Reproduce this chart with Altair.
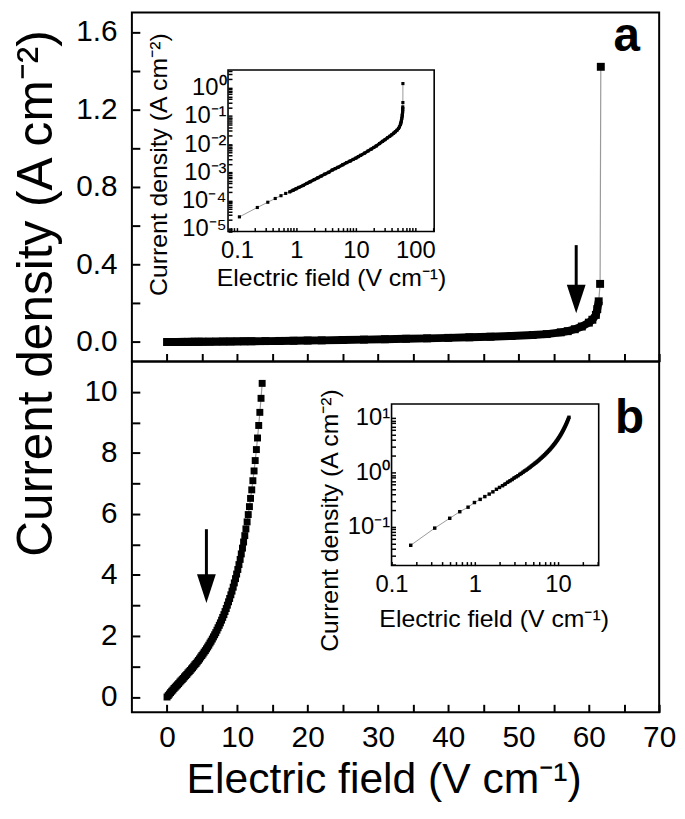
import altair as alt
import pandas as pd

FONT = "Liberation Sans"

# ---------------- data ----------------
# panel a : electric field (V/cm) vs current density (A/cm2)
a_E = [0, 0.11, 0.22, 0.33, 0.44, 0.55, 0.66, 0.77, 0.88, 0.99,
       1.1, 1.3, 1.5, 1.7, 2.0, 2.3, 2.6, 3.0, 3.5, 4.0,
       4.5, 5.0, 6.0, 7.0, 8.0, 9.0, 10, 11, 12, 14,
       16, 18, 20, 22, 25, 28, 31, 34, 37, 40,
       43, 46, 49, 52, 54, 56, 57, 58, 59, 60,
       60.5, 61.0, 61.2, 61.4, 61.6, 61.7]
a_J = [0, 2.6e-5, 5.6e-5, 8.6e-5, 1.17e-4, 1.47e-4, 1.77e-4, 2.0e-4, 2.3e-4, 2.6e-4,
       2.9e-4, 3.4e-4, 4.0e-4, 4.6e-4, 5.5e-4, 6.4e-4, 7.3e-4, 8.6e-4, 1.0e-3, 1.2e-3,
       1.35e-3, 1.5e-3, 1.85e-3, 2.2e-3, 2.5e-3, 2.85e-3, 3.2e-3, 3.6e-3, 4.0e-3, 4.8e-3,
       5.7e-3, 6.6e-3, 7.6e-3, 8.6e-3, 0.0105, 0.0125, 0.0145, 0.0168, 0.019, 0.0215,
       0.0243, 0.0275, 0.031, 0.036, 0.041, 0.05, 0.056, 0.066, 0.08, 0.10,
       0.115, 0.14, 0.17, 0.21, 0.30, 1.42]

# panel b
b_E = [0, 0.17, 0.33, 0.50, 0.66, 0.83, 0.99, 1.16, 1.32, 1.49, 1.65,
       1.82, 1.98, 2.15, 2.31, 2.48, 2.64, 2.81, 2.97, 3.14, 3.30,
       3.47, 3.63, 3.80, 3.96, 4.13, 4.29, 4.46, 4.62, 4.79, 4.95,
       5.12, 5.28, 5.45, 5.61, 5.78, 5.94, 6.11, 6.27, 6.44, 6.60,
       6.77, 6.93, 7.10, 7.26, 7.43, 7.59, 7.76, 7.92, 8.09, 8.25,
       8.42, 8.58, 8.75, 8.91, 9.08, 9.24, 9.41, 9.57, 9.74, 9.90,
       10.07, 10.23, 10.40, 10.56, 10.73, 10.89, 11.06, 11.22, 11.39, 11.55,
       11.72, 11.88, 12.05, 12.21, 12.38, 12.54, 12.71, 12.87, 13.04, 13.20,
       13.37, 13.53]
b_J = [0, 0.046, 0.095, 0.144, 0.19, 0.23, 0.28, 0.32, 0.36, 0.40, 0.44,
       0.49, 0.53, 0.57, 0.61, 0.66, 0.70, 0.74, 0.79, 0.83, 0.87,
       0.92, 0.96, 1.01, 1.06, 1.10, 1.15, 1.20, 1.25, 1.31, 1.36,
       1.41, 1.47, 1.52, 1.58, 1.64, 1.70, 1.77, 1.83, 1.90, 1.97,
       2.04, 2.11, 2.19, 2.27, 2.35, 2.43, 2.52, 2.61, 2.70, 2.80,
       2.90, 3.01, 3.12, 3.23, 3.35, 3.47, 3.60, 3.74, 3.88, 4.03,
       4.18, 4.34, 4.51, 4.69, 4.88, 5.08, 5.29, 5.51, 5.74, 5.98,
       6.24, 6.51, 6.79, 7.09, 7.41, 7.75, 8.11, 8.49, 8.90, 9.33,
       9.79, 10.28]

# axis domains and ticks
x_domain = [-5, 70]
ya_domain = [-0.1, 1.7]
yb_domain = [-0.5, 11]
x_ticks = [0, 5, 10, 15, 20, 25, 30, 35, 40, 45, 50, 55, 60, 65, 70]
ya_ticks = [0.0, 0.2, 0.4, 0.6, 0.8, 1.0, 1.2, 1.4, 1.6]
yb_ticks = [0, 1, 2, 3, 4, 5, 6, 7, 8, 9, 10]

ia_x_domain = [0.0708, 207]
ia_y_domain = [7.8e-6, 4.3]
ib_x_domain = [0.1, 30.8]
ib_y_domain = [0.0195, 18]
ia_x_ticks = [0.08, 0.09, 0.1, 0.2, 0.3, 0.4, 0.5, 0.6, 0.7, 0.8, 0.9, 1, 2, 3, 4, 5, 6, 7, 8, 9,
              10, 20, 30, 40, 50, 60, 70, 80, 90, 100, 200]
ia_y_ticks = [8e-6, 9e-6, 1e-5, 2e-5, 3e-5, 4e-5, 5e-5, 6e-5, 7e-5, 8e-5, 9e-5,
              1e-4, 2e-4, 3e-4, 4e-4, 5e-4, 6e-4, 7e-4, 8e-4, 9e-4,
              1e-3, 2e-3, 3e-3, 4e-3, 5e-3, 6e-3, 7e-3, 8e-3, 9e-3,
              1e-2, 2e-2, 3e-2, 4e-2, 5e-2, 6e-2, 7e-2, 8e-2, 9e-2,
              0.1, 0.2, 0.3, 0.4, 0.5, 0.6, 0.7, 0.8, 0.9, 1, 2, 3, 4]
ib_x_ticks = [0.1, 0.2, 0.3, 0.4, 0.5, 0.6, 0.7, 0.8, 0.9, 1, 2, 3, 4, 5, 6, 7, 8, 9, 10, 20, 30]
ib_y_ticks = [0.02, 0.03, 0.04, 0.05, 0.06, 0.07, 0.08, 0.09, 0.1, 0.2, 0.3, 0.4, 0.5, 0.6, 0.7,
              0.8, 0.9, 1, 2, 3, 4, 5, 6, 7, 8, 9, 10]
sup_exp = ["⁻⁶", "⁻⁵", "⁻⁴", "⁻³", "⁻²", "⁻¹", "⁰", "¹"]

# annotations
arrow_a = {"E": [58.2], "J": [0.50], "J2": [0.25], "Jh": [0.222]}
arrow_b = {"E": [5.6], "J": [5.5], "J2": [3.9], "Jh": [3.55]}
label_a = {"E": [65.4], "J": [1.50], "t": ["a"]}
label_b = {"E": [65.8], "J": [8.65], "t": ["b"]}

Y_TITLE = "Current density (A cm⁻²)"
X_TITLE = "Electric field (V cm⁻¹)"

# ---------------- layout constants ----------------
W = 532
H_A = 352
H_B = 354
TK = 8      # main tick length
ITK = 4     # inset tick length
ARROW_PATH = "M-0.655,-1L0.655,-1L0,1Z"

df_a = pd.DataFrame({"E": a_E, "J": a_J})
df_b = pd.DataFrame({"E": b_E, "J": b_J})

log_test = "abs(log(datum.value)/LN10 - round(log(datum.value)/LN10)) < 0.001"
sup_js = "[" + ",".join("'" + s + "'" for s in sup_exp) + "]"
x_log_label = f"{log_test} ? format(datum.value, '~g') : ''"
y_log_label = f"{log_test} ? '10' + {sup_js}[round(log(datum.value)/LN10) + 6] : ''"


def main_panel(df, dense_max, y_domain, y_ticks, y_label_expr, height, arrow, label,
               x_labels, y_title_kw, x_title_kw, sq_size, thick):
    xs = alt.Scale(domain=x_domain, nice=False, zero=False)
    ys = alt.Scale(domain=y_domain, nice=False, zero=False)
    xax = alt.Axis(values=x_ticks, labels=x_labels, domain=False, grid=False,
                   tickSize=TK, tickWidth=2, tickColor="black", offset=-TK,
                   labelExpr="datum.value % 10 == 0 ? datum.label : ''",
                   labelFont=FONT, labelFontSize=30, labelColor="black", labelPadding=11,
                   labelFlush=False, labelOverlap=False, **x_title_kw)
    yax = alt.Axis(values=y_ticks, domain=False, grid=False,
                   tickSize=TK, tickWidth=2, tickColor="black", offset=-TK,
                   labelExpr=y_label_expr, labelFont=FONT, labelFontSize=30,
                   labelColor="black", labelPadding=15, labelFlush=False,
                   labelOverlap=False, **y_title_kw)
    X = alt.X("E:Q", scale=xs, axis=xax)
    Y = alt.Y("J:Q", scale=ys, axis=yax)
    base = alt.Chart(df)
    layers = [
        base.mark_line(color="#9a9a9a", strokeWidth=1.2).encode(x=X, y=Y),
    ]
    if thick:
        layers.append(base.transform_filter(f"datum.J <= {dense_max}")
                      .mark_line(color="black", strokeWidth=8, strokeJoin="round")
                      .encode(x=X, y=Y))
    layers += [
        base.mark_square(color="black", size=sq_size, opacity=1).encode(x=X, y=Y),
        alt.Chart(pd.DataFrame(arrow)).mark_rule(color="black", strokeWidth=3)
        .encode(x=X, y=Y, y2="J2:Q"),
        alt.Chart(pd.DataFrame(arrow)).mark_point(shape=ARROW_PATH, size=841, filled=True,
                                                  color="black", opacity=1, strokeWidth=0)
        .encode(x=X, y=alt.Y("Jh:Q", scale=ys, axis=yax)),
        alt.Chart(pd.DataFrame(label)).mark_text(font=FONT, fontSize=48, fontWeight="bold",
                                                 align="center", baseline="alphabetic",
                                                 color="black")
        .encode(x=X, y=Y, text="t:N"),
    ]
    return alt.layer(*layers)


def inset(df, xdom, ydom, xrange_, yrange_, xticks, yticks, height, dense_min, dense_max,
          xt_kw, yt_kw, sq_size, thick_w):
    xs = alt.Scale(type="log", domain=xdom, range=xrange_, nice=False)
    ys = alt.Scale(type="log", domain=ydom, range=yrange_, nice=False)
    xax = alt.Axis(orient="bottom", values=xticks, domain=False, grid=False,
                   tickSize=ITK, tickWidth=1.5, tickColor="black",
                   offset=(yrange_[0] - ITK) - height,
                   labelExpr=x_log_label, labelFont=FONT, labelFontSize=24,
                   labelColor="black", labelPadding=7, labelFlush=False, labelOverlap=False,
                   title=X_TITLE, titleFont=FONT, titleFontSize=25, titleFontWeight="normal",
                   titleColor="black", titleAlign="center", titleBaseline="alphabetic",
                   titleAngle=0, **xt_kw)
    yax = alt.Axis(orient="left", values=yticks, domain=False, grid=False,
                   tickSize=ITK, tickWidth=1.5, tickColor="black",
                   offset=-(xrange_[0] + ITK),
                   labelExpr=y_log_label, labelFont=FONT, labelFontSize=24,
                   labelColor="black", labelPadding=2, labelFlush=False, labelOverlap=False,
                   title=Y_TITLE, titleFont=FONT, titleFontSize=25, titleFontWeight="normal",
                   titleColor="black", titleAlign="center", titleBaseline="middle",
                   titleAngle=270, **yt_kw)
    X = alt.X("E:Q", scale=xs, axis=xax)
    Y = alt.Y("J:Q", scale=ys, axis=yax)
    pos = alt.Chart(df).transform_filter("datum.E > 0")
    frame = pd.DataFrame({"E": [xdom[0]], "E2": [xdom[1]], "J": [ydom[0]], "J2": [ydom[1]]})
    return alt.layer(
        alt.Chart(frame).mark_rect(filled=False, stroke="black", strokeWidth=1.6, fillOpacity=0)
        .encode(x=X, x2="E2:Q", y=Y, y2="J2:Q"),
        pos.mark_line(color="#9a9a9a", strokeWidth=1).encode(x=X, y=Y),
        pos.transform_filter(f"datum.E >= {dense_min} && datum.J <= {dense_max}")
        .mark_line(color="black", strokeWidth=thick_w, strokeJoin="round").encode(x=X, y=Y),
        pos.mark_square(color="black", size=sq_size, opacity=1).encode(x=X, y=Y),
    )


# ---------------- panel a ----------------
main_a = main_panel(
    df_a, 0.21, ya_domain, ya_ticks,
    "round(datum.value*10) % 4 == 0 ? format(datum.value, '.1f') : ''",
    H_A, arrow_a, label_a, False,
    dict(title=Y_TITLE, titleFont=FONT, titleFontSize=50, titleFontWeight="normal",
         titleColor="black", titleAngle=270, titleAlign="center", titleBaseline="middle",
         titleX=-104, titleY=283),
    dict(title=None), 64, True)
inset_a = inset(df_a, ia_x_domain, ia_y_domain, [97, 305], [221, 58], ia_x_ticks, ia_y_ticks,
                H_A, 0.77, 0.21, dict(titleX=201, titleY=58), dict(titleX=-74, titleY=153),
                10, 3.2)
panel_a = alt.layer(main_a, inset_a).resolve_scale(x="independent", y="independent") \
    .properties(width=W, height=H_A)

# ---------------- panel b ----------------
main_b = main_panel(
    df_b, 100, yb_domain, yb_ticks, "datum.value % 2 == 0 ? datum.label : ''",
    H_B, arrow_b, label_b, True,
    dict(title=None),
    dict(title=X_TITLE, titleFont=FONT, titleFontSize=43, titleFontWeight="normal",
         titleColor="black", titleAlign="center", titleBaseline="alphabetic",
         titleX=254, titleY=89),
    49, False)
inset_b = inset(df_b, ib_x_domain, ib_y_domain, [262, 471], [206, 43], ib_x_ticks, ib_y_ticks,
                H_B, 2.0, 100, dict(titleX=365, titleY=65), dict(titleX=-67, titleY=160),
                12, 3.0)
panel_b = alt.layer(main_b, inset_b).resolve_scale(x="independent", y="independent") \
    .properties(width=W, height=H_B)

chart = alt.vconcat(panel_a, panel_b, spacing=0, bounds="flush").properties(
    padding={"left": 2, "top": 0, "right": 0, "bottom": 0}
).configure_view(stroke="black", strokeWidth=2)

chart.save("out.html", embed_options={"renderer": "svg", "actions": False})
